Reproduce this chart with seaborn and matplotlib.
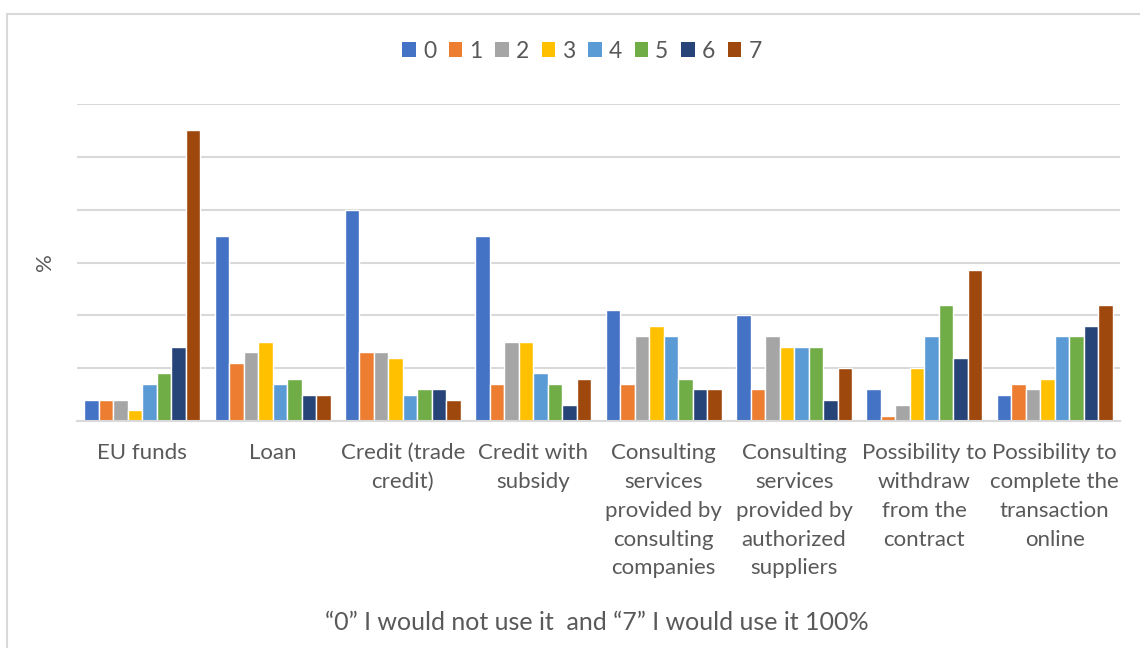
import matplotlib
matplotlib.use("Agg")
import matplotlib.pyplot as plt
from matplotlib.patches import Rectangle, Patch
import seaborn as sns
import pandas as pd

# Survey options on the x axis
options = [
    "EU funds",
    "Loan",
    "Credit (trade\ncredit)",
    "Credit with\nsubsidy",
    "Consulting\nservices\nprovided by\nconsulting\ncompanies",
    "Consulting\nservices\nprovided by\nauthorized\nsuppliers",
    "Possibility to\nwithdraw\nfrom the\ncontract",
    "Possibility to\ncomplete the\ntransaction\nonline",
]

# Rating scale 0..7
ratings = ["0", "1", "2", "3", "4", "5", "6", "7"]

# Share of answers per rating (rows follow options)
eu_funds = [4, 4, 4, 2, 7, 9, 14, 55]
loan = [35, 11, 13, 15, 7, 8, 5, 5]
trade_credit = [40, 13, 13, 12, 5, 6, 6, 4]
credit_subsidy = [35, 7, 15, 15, 9, 7, 3, 8]
consulting_companies = [21, 7, 16, 18, 16, 8, 6, 6]
authorized_suppliers = [20, 6, 16, 14, 14, 14, 4, 10]
withdraw = [6, 1, 3, 10, 16, 22, 12, 28.5]
online = [5, 7, 6, 8, 16, 16, 18, 22]

series = [eu_funds, loan, trade_credit, credit_subsidy,
          consulting_companies, authorized_suppliers, withdraw, online]

colors = ["#4472C4", "#ED7D31", "#A5A5A5", "#FFC000",
          "#5B9BD5", "#70AD47", "#264478", "#9E480E"]

rows = []
for opt, vals in zip(options, series):
    for r, v in zip(ratings, vals):
        rows.append({"option": opt, "rating": r, "value": v})
df = pd.DataFrame(rows)

sns.set_theme(style="white")
plt.rcParams["font.family"] = ["Lato", "DejaVu Sans"]
text_color = "#595959"
grid_color = "#D9D9D9"

fig = plt.figure(figsize=(11.4, 6.48), dpi=100)
ax = fig.add_axes([77 / 1140, 1 - 421 / 648, (1120 - 77) / 1140, (421 - 104) / 648])

sns.barplot(data=df, x="option", y="value", hue="rating", hue_order=ratings,
            order=options, palette=colors, width=0.89, edgecolor="white",
            linewidth=1.0, saturation=1, ax=ax, legend=False)

ax.set_ylim(0, 60)
ax.set_xlim(-0.5, len(options) - 0.5)
ax.set_yticks(range(0, 61, 10))
ax.set_yticklabels([])
ax.tick_params(axis="y", length=0)
ax.tick_params(axis="x", length=0, pad=16, labelsize=16, colors=text_color)
for lbl in ax.get_xticklabels():
    lbl.set_linespacing(1.55)
    lbl.set_verticalalignment("top")
ax.yaxis.grid(True, color=grid_color, linewidth=1.5)
ax.set_axisbelow(True)
for side in ["top", "right", "left"]:
    ax.spines[side].set_visible(False)
ax.spines["bottom"].set_color(grid_color)
ax.spines["bottom"].set_linewidth(1.5)

ax.set_xlabel("")
ax.set_ylabel("%", fontsize=16, color=text_color, labelpad=12)
fig.text(597 / 1140, 1 - 622 / 648, "\u201c0\u201d I would not use it  and \u201c7\u201d I would use it 100%",
         ha="center", va="center", fontsize=18, color=text_color)

handles = [Patch(facecolor=c, edgecolor="none") for c in colors]
leg = fig.legend(handles, ratings, loc="center", bbox_to_anchor=(582 / 1140, 1 - 51 / 648),
                 ncol=8, frameon=False, fontsize=16.5, handlelength=0.6, handleheight=0.6,
                 handletextpad=0.3, columnspacing=0.55)
for t in leg.get_texts():
    t.set_color(text_color)

# Light chart-area border
fig.add_artist(Rectangle((6.5 / 1140, -0.1), 1.2, 1 - 14 / 648 + 0.1,
                         transform=fig.transFigure, fill=False,
                         edgecolor=grid_color, linewidth=1.5))

fig.savefig("out.png", dpi=100, facecolor="white")
